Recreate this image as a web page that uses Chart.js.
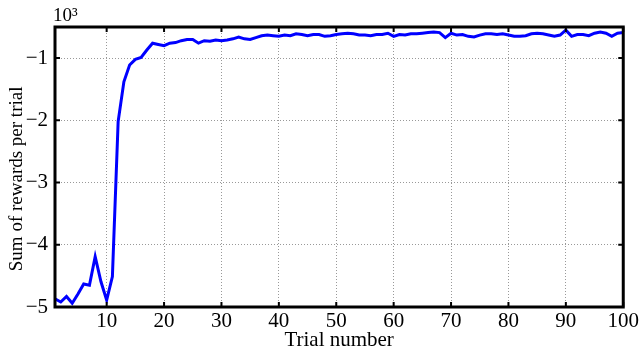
<!DOCTYPE html>
<html><head><meta charset="utf-8">
<script src="https://cdn.jsdelivr.net/npm/chart.js@4/dist/chart.umd.min.js"></script>
<style>html,body{margin:0;padding:0;background:#fff}#wrap{width:641px;height:353px}</style>
</head><body><div id="wrap"><canvas id="c" width="641" height="353"></canvas></div>
<script>
// Trial numbers (categories)
const trials = Array.from({length: 100}, (_, i) => i + 1);
// Sum of rewards per trial, in thousands (×10³)
const rewards = [
  -4.87, -4.92, -4.83, -4.94, -4.79, -4.63, -4.65, -4.19, -4.59, -4.89,
  -4.51, -2.02, -1.38, -1.11, -1.02, -0.99, -0.87, -0.76, -0.78, -0.80,
  -0.76, -0.75, -0.72, -0.70, -0.70, -0.76, -0.72, -0.73, -0.71, -0.72,
  -0.71, -0.69, -0.66, -0.69, -0.70, -0.67, -0.64, -0.63, -0.64, -0.65,
  -0.63, -0.64, -0.61, -0.62, -0.64, -0.62, -0.62, -0.65, -0.64, -0.62,
  -0.61, -0.60, -0.61, -0.63, -0.63, -0.64, -0.62, -0.62, -0.60, -0.65,
  -0.62, -0.63, -0.61, -0.61, -0.60, -0.59, -0.58, -0.59, -0.67, -0.60,
  -0.63, -0.62, -0.65, -0.66, -0.63, -0.61, -0.61, -0.62, -0.61, -0.63,
  -0.65, -0.65, -0.64, -0.61, -0.60, -0.61, -0.63, -0.65, -0.63, -0.55,
  -0.65, -0.62, -0.62, -0.64, -0.60, -0.58, -0.60, -0.65, -0.60, -0.59
];
const xTickValues = [10, 20, 30, 40, 50, 60, 70, 80, 90, 100];
const yTickValues = [-5, -4, -3, -2, -1];
const xLabel = 'Trial number';
const yLabel = 'Sum of rewards per trial';
const exponentLabel = '10³';

const FONT = 'Liberation Serif, Times New Roman, serif';

const frame = {
  id: 'frame',
  afterDraw(chart) {
    const {ctx, chartArea: a, scales} = chart;
    ctx.save();
    ctx.strokeStyle = '#000';
    ctx.lineWidth = 2;
    const tl = 5;
    ctx.beginPath();
    xTickValues.forEach(v => {
      const px = scales.x.getPixelForValue(v);
      ctx.moveTo(px, a.bottom); ctx.lineTo(px, a.bottom - tl);
      ctx.moveTo(px, a.top); ctx.lineTo(px, a.top + tl);
    });
    yTickValues.forEach(v => {
      const py = scales.y.getPixelForValue(v);
      ctx.moveTo(a.left, py); ctx.lineTo(a.left + tl, py);
      ctx.moveTo(a.right, py); ctx.lineTo(a.right - tl, py);
    });
    ctx.stroke();
    ctx.lineWidth = 3;
    ctx.strokeRect(a.left, a.top, a.right - a.left, a.bottom - a.top);
    ctx.fillStyle = '#000';
    ctx.font = '19px ' + FONT;
    ctx.textAlign = 'left';
    ctx.textBaseline = 'alphabetic';
    ctx.fillText(exponentLabel, a.left - 2, a.top - 6);
    ctx.restore();
  }
};

new Chart(document.getElementById('c'), {
  type: 'line',
  data: {
    datasets: [{
      data: trials.map((t, i) => ({x: t, y: rewards[i]})),
      borderColor: '#0000ff',
      borderWidth: 3,
      pointRadius: 0,
      tension: 0,
      fill: false
    }]
  },
  options: {
    responsive: false,
    animation: false,
    layout: {padding: {left: 0, top: 27, right: 15, bottom: 0}},
    plugins: {legend: {display: false}, tooltip: {enabled: false}},
    scales: {
      x: {
        type: 'linear', min: 1, max: 100,
        afterBuildTicks: s => { s.ticks = xTickValues.map(v => ({value: v})); },
        afterFit: s => { s.height = 46; },
        ticks: {font: {family: FONT, size: 21}, color: '#000', padding: 2, maxRotation: 0, autoSkip: false},
        grid: {drawTicks: false, color: '#999999', lineWidth: 1},
        border: {display: false, dash: [1, 2]},
        title: {display: true, text: xLabel, font: {family: FONT, size: 21, lineHeight: 1.1}, color: '#000', padding: {top: 0, bottom: 1}}
      },
      y: {
        min: -5, max: -0.5,
        afterBuildTicks: s => { s.ticks = yTickValues.map(v => ({value: v})); },
        afterFit: s => { s.width = 55; },
        ticks: {font: {family: FONT, size: 21}, color: '#000', padding: 7,
          callback: v => (v < 0 ? '\u2212' : '') + Math.abs(v)},
        grid: {drawTicks: false, color: '#999999', lineWidth: 1},
        border: {display: false, dash: [1, 2]},
        title: {display: true, text: yLabel + '\u00a0\u00a0\u00a0\u00a0\u00a0', font: {family: FONT, size: 19}, color: '#000', padding: {top: 6, bottom: 0}}
      }
    }
  },
  plugins: [frame]
});
</script></body></html>
